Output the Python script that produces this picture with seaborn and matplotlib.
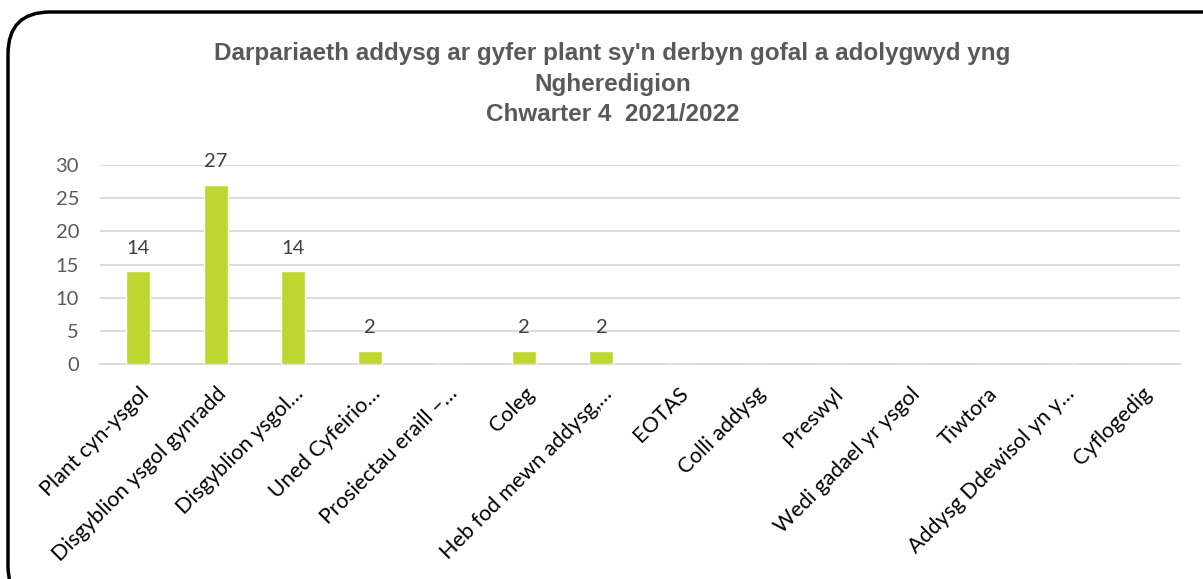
import matplotlib
matplotlib.use("Agg")
import matplotlib.pyplot as plt
import seaborn as sns
import pandas as pd
from matplotlib.patches import FancyBboxPatch

categories = [
    "Plant cyn-ysgol",
    "Disgyblion ysgol gynradd",
    "Disgyblion ysgol…",
    "Uned Cyfeirio…",
    "Prosiectau eraill –…",
    "Coleg",
    "Heb fod mewn addysg,…",
    "EOTAS",
    "Colli addysg",
    "Preswyl",
    "Wedi gadael yr ysgol",
    "Tiwtora",
    "Addysg Ddewisol yn y…",
    "Cyflogedig",
]
values = [14, 27, 14, 2, 0, 2, 2, 0, 0, 0, 0, 0, 0, 0]
yticks = [0, 5, 10, 15, 20, 25, 30]
title = "Darpariaeth addysg ar gyfer plant sy'n derbyn gofal a adolygwyd yng\nNgheredigion\nChwarter 4  2021/2022"

sns.set_theme(style="white")
plt.rcParams['font.family'] = ['Lato', 'DejaVu Sans']

df = pd.DataFrame({"cat": categories, "val": values})

fig = plt.figure(figsize=(12.03, 5.79), dpi=100)
ax = fig.add_axes([0.083, 0.371, 0.898, 0.344])

sns.barplot(data=df, x="cat", y="val", color="#BED730", width=0.31, ax=ax,
            saturation=1, zorder=3)

ax.set_ylim(0, 30)
ax.set_yticks(yticks)
ax.set_xlim(-0.5, len(categories) - 0.5)
ax.yaxis.grid(True, color="#d9d9d9", linewidth=1.3, zorder=0)
ax.set_axisbelow(True)
for s in ["top", "right", "left"]:
    ax.spines[s].set_visible(False)
ax.spines["bottom"].set_color("#d9d9d9")
ax.spines["bottom"].set_linewidth(1.3)
ax.set_xlabel("")
ax.set_ylabel("")
ax.tick_params(axis="y", labelsize=14.5, colors="#595959", length=0, pad=15)
ax.tick_params(axis="x", length=0, pad=14)
ax.set_xticks(range(len(categories)))
ax.set_xticklabels(categories, rotation=45, ha="right", rotation_mode="anchor",
                   fontsize=15.5, color="#000000")

for i, v in enumerate(values):
    if v > 0:
        ax.text(i, v + 2.2, str(v), ha="center", va="bottom", fontsize=14.5,
                color="#404040")

fig.text(0.509, 0.927, title, ha="center", va="top", fontsize=17.5,
         fontweight="bold", color="#595959", linespacing=1.42,
         family=["Liberation Sans Narrow", "Liberation Sans", "DejaVu Sans"])

box = FancyBboxPatch((8 / 1203, -0.05), 1.05, 1 - 12 / 579 + 0.05,
                     boxstyle="round,pad=0,rounding_size=0.035",
                     transform=fig.transFigure, fill=False,
                     edgecolor="black", linewidth=2.5, mutation_aspect=1203 / 579)
fig.patches.append(box)

fig.savefig("out.png", dpi=100)
